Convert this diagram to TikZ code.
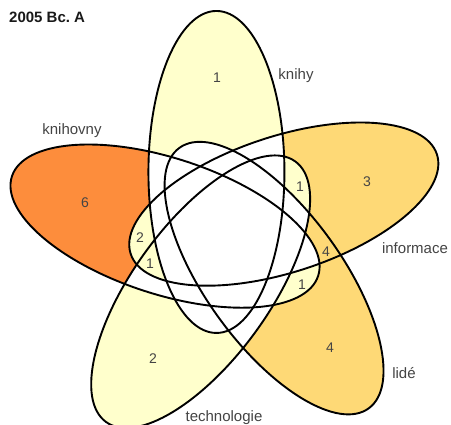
\documentclass[tikz,border=0pt]{standalone}
\usepackage{fontspec}
\setmainfont{Liberation Sans}
\definecolor{cA}{HTML}{FFFFCC}
\definecolor{cB}{HTML}{FED976}
\definecolor{cC}{HTML}{FD8D3C}
\definecolor{labgray}{HTML}{444444}
\begin{document}
\frenchspacing
\begin{tikzpicture}[x=1pt,y=-1pt,
  ell/.style={line width=1.9pt, draw=black},
  lab/.style={text=labgray, font=\fontsize{15}{18}\selectfont, inner sep=0pt},
  num/.style={text=labgray, font=\fontsize{14}{16}\selectfont, inner sep=0pt},
  eK/.style={shift={(216.43,171.96)}, rotate=90, x radius=161, y radius=68},
  eI/.style={shift={(283.80,204.10)}, rotate=18, x radius=161, y radius=68},
  eL/.style={shift={(274.06,278.11)}, rotate=-54, x radius=161, y radius=68},
  eT/.style={shift={(200.66,291.71)}, rotate=-126, x radius=161, y radius=68},
  eN/.style={shift={(165.04,226.11)}, rotate=162, x radius=161, y radius=68},
]
\useasboundingbox (0,0) rectangle (451,425);
\fill[white] (0,0) rectangle (451,425);
% single-set regions
\begin{scope}
  \clip[eK] (0,0) ellipse [];
  \fill[cA] (0,0) rectangle (451,425);
  \fill[white,eI] (0,0) ellipse [];
  \fill[white,eL] (0,0) ellipse [];
  \fill[white,eT] (0,0) ellipse [];
  \fill[white,eN] (0,0) ellipse [];
\end{scope}
\begin{scope}
  \clip[eI] (0,0) ellipse [];
  \fill[cB] (0,0) rectangle (451,425);
  \fill[white,eK] (0,0) ellipse [];
  \fill[white,eL] (0,0) ellipse [];
  \fill[white,eT] (0,0) ellipse [];
  \fill[white,eN] (0,0) ellipse [];
\end{scope}
\begin{scope}
  \clip[eL] (0,0) ellipse [];
  \fill[cB] (0,0) rectangle (451,425);
  \fill[white,eK] (0,0) ellipse [];
  \fill[white,eI] (0,0) ellipse [];
  \fill[white,eT] (0,0) ellipse [];
  \fill[white,eN] (0,0) ellipse [];
\end{scope}
\begin{scope}
  \clip[eT] (0,0) ellipse [];
  \fill[cA] (0,0) rectangle (451,425);
  \fill[white,eK] (0,0) ellipse [];
  \fill[white,eI] (0,0) ellipse [];
  \fill[white,eL] (0,0) ellipse [];
  \fill[white,eN] (0,0) ellipse [];
\end{scope}
\begin{scope}
  \clip[eN] (0,0) ellipse [];
  \fill[cC] (0,0) rectangle (451,425);
  \fill[white,eK] (0,0) ellipse [];
  \fill[white,eI] (0,0) ellipse [];
  \fill[white,eL] (0,0) ellipse [];
  \fill[white,eT] (0,0) ellipse [];
\end{scope}
% two-set regions
\begin{scope}
  \clip[eI] (0,0) ellipse [];
  \clip[eT] (0,0) ellipse [];
  \fill[cA] (0,0) rectangle (451,425);
  \fill[white,eK] (0,0) ellipse [];
  \fill[white,eL] (0,0) ellipse [];
  \fill[white,eN] (0,0) ellipse [];
\end{scope}
\begin{scope}
  \clip[eI] (0,0) ellipse [];
  \clip[eL] (0,0) ellipse [];
  \fill[cB] (0,0) rectangle (451,425);
  \fill[white,eK] (0,0) ellipse [];
  \fill[white,eT] (0,0) ellipse [];
  \fill[white,eN] (0,0) ellipse [];
\end{scope}
\begin{scope}
  \clip[eN] (0,0) ellipse [];
  \clip[eL] (0,0) ellipse [];
  \fill[cA] (0,0) rectangle (451,425);
  \fill[white,eK] (0,0) ellipse [];
  \fill[white,eI] (0,0) ellipse [];
  \fill[white,eT] (0,0) ellipse [];
\end{scope}
\begin{scope}
  \clip[eI] (0,0) ellipse [];
  \clip[eN] (0,0) ellipse [];
  \fill[cA] (0,0) rectangle (451,425);
  \fill[white,eK] (0,0) ellipse [];
  \fill[white,eL] (0,0) ellipse [];
  \fill[white,eT] (0,0) ellipse [];
\end{scope}
% three-set region
\begin{scope}
  \clip[eI] (0,0) ellipse [];
  \clip[eN] (0,0) ellipse [];
  \clip[eT] (0,0) ellipse [];
  \fill[cA] (0,0) rectangle (451,425);
  \fill[white,eK] (0,0) ellipse [];
  \fill[white,eL] (0,0) ellipse [];
\end{scope}
% outlines
\draw[ell,eK] (0,0) ellipse [];
\draw[ell,eI] (0,0) ellipse [];
\draw[ell,eL] (0,0) ellipse [];
\draw[ell,eT] (0,0) ellipse [];
\draw[ell,eN] (0,0) ellipse [];
% title and labels
\node[anchor=base west, inner sep=0pt, text=black!90, font=\bfseries\fontsize{15}{18}\selectfont] (title) at (9,23) {2005 Bc.\ A};
\node[lab] (lK) at (296,76) {knihy};
\node[lab] (lN) at (72,131) {knihovny};
\node[lab] (lI) at (415,248) {informace};
\node[lab] (lL) at (404,373) {lidé};
\node[lab] (lT) at (224,418) {technologie};
% counts
\node[num] (nK) at (217,78) {1};
\node[num] (nI) at (367,182) {3};
\node[num] (nL) at (330,348) {4};
\node[num] (nT) at (153,359) {2};
\node[num] (nN) at (85,203) {6};
\node[num] (nIT) at (300,187) {1};
\node[num] (nIL) at (326,252) {4};
\node[num] (nNL) at (302,285) {1};
\node[num] (nIN) at (140,238) {2};
\node[num] (nINT) at (150,264) {1};
\end{tikzpicture}
\end{document}
